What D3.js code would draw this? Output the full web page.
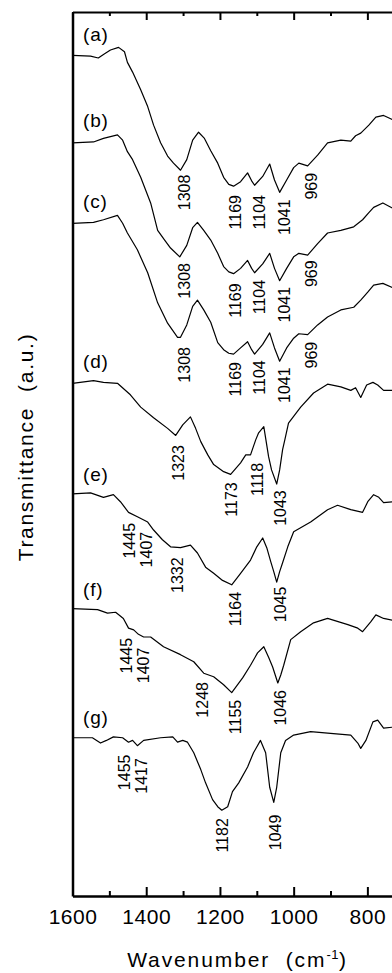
<!DOCTYPE html>
<html>
<head>
<meta charset="utf-8">
<script src="https://cdn.jsdelivr.net/npm/d3@7"></script>
<style>
  body { margin: 0; background: #fff; }
  text { font-family: "Liberation Sans", Arial, Helvetica, sans-serif; fill: #000; }
</style>
</head>
<body>
<script>
let width = 392
let height = 973

// spectra: [wavenumber cm-1, transmittance a.u. (offset)]
const specA = [[1600,95.1],[1551,95.0],[1530,94.8],[1516,95.2],[1497,95.7],[1475,96.0],[1459,95.5],[1451,94.3],[1437,93.2],[1415,91.2],[1396,89.3],[1380,87.2],[1361,85.2],[1342,83.7],[1326,82.9],[1307,82.1],[1290,83.3],[1274,85.5],[1258,86.4],[1242,85.7],[1225,84.3],[1206,82.9],[1190,81.3],[1176,80.5],[1163,80.3],[1144,80.8],[1125,81.8],[1114,80.9],[1106,80.4],[1084,81.4],[1065,82.8],[1052,81.0],[1038,79.6],[1019,81.0],[1000,82.4],[986,82.9],[962,82.6],[935,83.8],[908,85.2],[872,85.5],[845,85.4],[832,86.0],[818,86.3],[796,87.2],[777,88.1],[756,88.3],[731,87.8]]
const specB = [[1600,85.2],[1543,85.3],[1516,85.7],[1478,86.1],[1464,85.5],[1451,84.2],[1437,83.3],[1415,81.3],[1388,78.4],[1369,75.3],[1350,74.2],[1334,73.3],[1309,72.3],[1290,73.6],[1274,75.6],[1261,76.2],[1244,75.3],[1225,74.2],[1206,72.7],[1190,71.2],[1176,70.6],[1163,70.4],[1144,71.0],[1125,71.9],[1114,71.0],[1106,70.5],[1084,71.5],[1065,72.7],[1052,71.0],[1038,69.6],[1019,71.0],[1000,72.3],[986,72.7],[962,72.5],[935,73.8],[908,75.0],[872,75.3],[837,75.7],[813,76.5],[796,77.3],[783,77.9],[758,78.4],[731,77.8]]
const specC = [[1600,76.1],[1543,76.2],[1516,76.5],[1478,77.0],[1464,76.1],[1451,75.0],[1424,73.1],[1396,70.5],[1369,67.1],[1342,64.8],[1315,63.2],[1307,63.2],[1290,64.6],[1274,66.7],[1261,67.4],[1244,66.3],[1225,64.9],[1206,62.6],[1190,61.8],[1176,61.4],[1163,61.3],[1144,62.0],[1125,62.7],[1114,61.8],[1106,61.3],[1084,62.4],[1065,63.7],[1052,62.0],[1038,60.5],[1019,62.0],[1000,63.1],[986,63.6],[962,63.5],[935,64.6],[908,65.5],[872,66.3],[837,66.6],[818,67.4],[799,68.3],[783,69.1],[758,69.3],[731,68.8]]
const specD = [[1600,58.0],[1543,58.3],[1516,58.1],[1478,58.0],[1443,56.7],[1415,55.3],[1380,54.1],[1342,52.9],[1320,52.1],[1301,53.3],[1280,54.2],[1266,52.9],[1252,51.4],[1233,49.9],[1217,48.8],[1190,48.0],[1171,47.7],[1144,49.0],[1130,49.9],[1117,49.9],[1103,51.6],[1095,52.4],[1081,53.1],[1068,49.7],[1060,48.2],[1046,46.6],[1038,48.2],[1030,50.5],[1024,51.6],[1014,53.5],[981,55.3],[946,56.9],[908,57.9],[872,57.6],[845,57.2],[832,57.5],[818,56.4],[802,57.8],[785,58.1],[772,57.8],[756,57.2],[731,57.2]]
const specE = [[1600,45.5],[1551,45.6],[1516,45.1],[1489,45.4],[1470,44.6],[1448,43.4],[1424,42.9],[1396,42.3],[1380,41.4],[1356,40.3],[1334,39.5],[1307,39.4],[1280,39.7],[1261,38.8],[1239,37.2],[1217,36.5],[1193,35.7],[1168,35.2],[1144,36.5],[1117,38.0],[1100,39.5],[1084,40.5],[1073,39.4],[1062,37.8],[1054,36.7],[1046,35.5],[1038,36.7],[1030,37.7],[1016,39.5],[1000,41.2],[954,42.3],[908,43.7],[881,44.2],[845,43.7],[813,43.4],[799,44.6],[783,45.4],[769,45.1],[756,44.5],[731,44.6]]
const specF = [[1600,32.5],[1532,32.4],[1505,32.0],[1483,32.1],[1462,31.4],[1448,30.3],[1434,30.1],[1421,29.6],[1407,29.3],[1388,29.3],[1353,28.2],[1307,27.3],[1271,26.5],[1244,25.2],[1217,24.8],[1190,23.9],[1168,23.0],[1138,24.7],[1117,26.1],[1098,27.5],[1081,28.2],[1068,27.0],[1057,25.9],[1043,24.1],[1035,25.0],[1027,26.1],[1008,29.0],[981,29.9],[946,30.9],[908,31.4],[853,30.7],[826,30.3],[813,29.9],[791,31.0],[777,31.8],[756,31.4],[731,31.2]]
const specG = [[1600,17.9],[1546,17.9],[1524,17.3],[1508,17.6],[1489,18.0],[1464,17.9],[1448,17.4],[1437,17.6],[1424,17.0],[1407,17.6],[1361,17.9],[1328,18.0],[1315,17.4],[1301,17.6],[1288,17.4],[1271,16.2],[1252,14.3],[1239,12.8],[1220,10.9],[1206,10.1],[1195,9.7],[1179,10.1],[1166,11.8],[1149,12.8],[1125,14.6],[1109,16.2],[1090,17.6],[1076,16.2],[1065,12.3],[1054,10.6],[1046,12.3],[1035,16.2],[1022,17.6],[1000,18.2],[954,18.6],[900,18.4],[845,18.2],[826,17.3],[818,16.7],[804,17.6],[785,19.7],[772,19.9],[756,19.0],[731,19.1]]

// band labels: [text, wavenumber where it sits, a.u. level of its top]
const peaksA = [['1308',1298,81.6],['1169',1159,79.3],['1104',1094,79.3],['1041',1026,78.8],['969',953,81.8]]
const peaksB = [['1308',1298,71.6],['1169',1159,69.3],['1104',1094,69.7],['1041',1026,68.9],['969',953,71.9]]
const peaksC = [['1308',1298,62.1],['1169',1159,60.4],['1104',1094,60.6],['1041',1026,59.8],['969',953,62.7]]
const peaksD = [['1323',1314,51.0],['1173',1170,46.8],['1118',1099,49.0],['1043',1037,45.9]]
const peaksE = [['1445',1447,42.2],['1407',1401,41.2],['1332',1316,38.3],['1164',1159,34.4],['1045',1037,35.0]]
const peaksF = [['1445',1455,29.2],['1407',1409,28.1],['1248',1249,24.2],['1155',1159,22.2],['1046',1037,23.3]]
const peaksG = [['1455',1460,16.0],['1417',1414,15.6],['1182',1194,8.8],['1049',1051,9.2]]

const names = ['(a)','(b)','(c)','(d)','(e)','(f)','(g)']
const nameLevels = [96.7, 87.0, 77.8, 59.7, 46.9, 33.9, 19.5]

const majorTicks = [1600, 1400, 1200, 1000, 800]
const minorTicks = [1500, 1300, 1100, 900]

const spectra = [specA, specB, specC, specD, specE, specF, specG]
const peaks = [].concat(peaksA, peaksB, peaksC, peaksD, peaksE, peaksF, peaksG)

const marginLeft = 72.5, marginTop = 12, axisBottomY = 896

const svg = d3.select("body")
    .append('svg')
    .attr('width', width)
    .attr('height', height)

const x = d3.scaleLinear().domain([1600, 400]).range([marginLeft, marginLeft + 1200 * 0.3686])
const y = d3.scaleLinear().domain([0, 100]).range([axisBottomY, marginTop])

// frame
const gx = svg.append('g').attr('transform', `translate(0,${axisBottomY})`)
    .call(d3.axisBottom(x).tickValues(majorTicks).tickFormat(d3.format('d'))
        .tickSize(-9).tickSizeOuter(0).tickPadding(13))
gx.attr('font-family', null).attr('font-size', null)
gx.select('.domain').attr('stroke-width', 2.5)
gx.selectAll('.tick line').attr('stroke-width', 2)
gx.selectAll('.tick text')
    .style('font-size', '21px')
    .style('letter-spacing', '0.5px')

const gxm = svg.append('g').attr('transform', `translate(0,${axisBottomY})`)
    .call(d3.axisBottom(x).tickValues(minorTicks).tickSize(-5).tickFormat(''))
gxm.select('.domain').remove()
gxm.selectAll('.tick line').attr('stroke-width', 2)

const gt = svg.append('g').attr('transform', `translate(0,${marginTop})`)
    .call(d3.axisTop(x).tickValues(majorTicks).tickSize(-8).tickSizeOuter(0).tickFormat(''))
gt.select('.domain').attr('stroke-width', 2)
gt.selectAll('.tick line').attr('stroke-width', 2)

const gtm = svg.append('g').attr('transform', `translate(0,${marginTop})`)
    .call(d3.axisTop(x).tickValues(minorTicks).tickSize(-4).tickFormat(''))
gtm.select('.domain').remove()
gtm.selectAll('.tick line').attr('stroke-width', 2)

const gy = svg.append('g').attr('transform', `translate(${marginLeft},0)`)
    .call(d3.axisLeft(y).tickValues([]).tickSizeOuter(0))
gy.select('.domain').attr('stroke-width', 2.5)

// spectra
const line = d3.line()
    .x(d => x(d[0]))
    .y(d => y(d[1]))

svg.append('g').selectAll('path')
    .data(spectra)
    .enter()
    .append('path')
        .attr('d', line)
        .attr('fill', 'none')
        .attr('stroke', 'black')
        .attr('stroke-width', 1.2)
        .attr('stroke-linejoin', 'round')

// curve names
svg.append('g').selectAll('text')
    .data(names)
    .enter()
    .append('text')
        .attr('x', marginLeft + 10.5)
        .attr('y', (d, i) => y(nameLevels[i]))
        .style('font-size', '19px')
        .style('letter-spacing', '0.8px')
        .text(d => d)

// band labels, vertical
svg.append('g').selectAll('text')
    .data(peaks)
    .enter()
    .append('text')
        .attr('transform', d => `translate(${x(d[1])},${y(d[2])}) rotate(-90)`)
        .attr('text-anchor', 'end')
        .attr('dy', '0.36em')
        .style('font-size', '16px')
        .text(d => d[0])

// axis titles
const xt = svg.append('text')
    .attr('x', 237.5)
    .attr('y', 967)
    .attr('text-anchor', 'middle')
    .style('font-size', '21px')
    .style('letter-spacing', '1.9px')
xt.append('tspan').text('Wavenumber\u00a0\u00a0(cm')
xt.append('tspan').attr('dy', -8).style('font-size', '13px').style('letter-spacing', '0.5px').text('-1')
xt.append('tspan').attr('dy', 8).text(')')

svg.append('text')
    .attr('transform', 'translate(33,447) rotate(-90)')
    .attr('text-anchor', 'middle')
    .style('font-size', '21px')
    .style('letter-spacing', '1.7px')
    .text('Transmittance\u00a0\u00a0(a.u.)')
</script>
</body>
</html>
